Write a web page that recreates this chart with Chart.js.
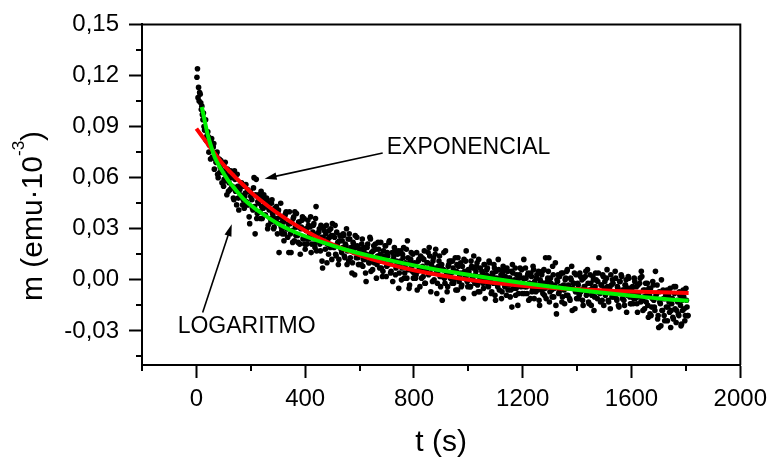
<!DOCTYPE html>
<html><head><meta charset="utf-8">
<script src="https://cdn.jsdelivr.net/npm/chart.js@4.4.0/dist/chart.umd.min.js"></script>
<style>html,body{margin:0;padding:0;background:#fff}#wrap{width:774px;height:461px}</style>
</head><body><div id="wrap"><canvas id="c" width="774" height="461"></canvas></div>
<script>
// ---- axis ticks ----
const xTicks = [0, 400, 800, 1200, 1600, 2000];
const xMinorTicks = [-200, 200, 600, 1000, 1400, 1800];
const yTicks = [-0.03, 0, 0.03, 0.06, 0.09, 0.12, 0.15];
const yMinorTicks = [-0.045, -0.015, 0.015, 0.045, 0.075, 0.105, 0.135];
const xRange = [-200, 2000];
const yRange = [-0.05, 0.15];

// ---- fitted curves ----
const expT = [0, 50, 100, 150, 200, 250, 300, 400, 500, 600, 700, 800, 1000, 1200, 1400, 1600, 1810];
const expM = [.0888, .078, .0675, .0592, .0515, .0450, .0390, .0288, .0208, .0145, .0095, .0056, .0001, -.0034, -.0055, -.0068, -.0077];
const logT = [20, 30, 43, 55, 67, 90, 116, 145, 178, 220, 260, 300, 349, 400, 462, 550, 635, 750, 870, 965, 1100, 1200, 1332, 1450, 1600, 1700, 1810];
const logM = [.1015, .0938, .0844, .0780, .0722, .0652, .0586, .0528, .0468, .0414, .0370, .0330, .0290, .0256, .0221, .0177, .0142, .0101, .0064, .0039, .0005, -.0018, -.0045, -.0068, -.0093, -.0109, -.0123];

// ---- measured points [t (s), m] ----
const scatterEarly = [
[2,.119],[4,.124],[6,.107],[8,.113],[10,.105],[12,.110],[14,.109],[16,.104],[18,.100],[20,.102],[22,.097],[24,.094],[28,.090],[32,.088],[36,.082],[40,.085],[44,.084],[48,.079],[52,.071],[56,.083],[60,.078],[64,.080],[68,.074],[72,.069],[76,.075],[80,.060],[84,.071],[88,.066],[92,.068],[96,.063],[100,.055],
[104,.058],[108,.062],[112,.050],[116,.061],[120,.057],[124,.053],[128,.060],[132,.055],[136,.048],[140,.064],[144,.052],[148,.044],[152,.055],[156,.041],[160,.053],[164,.049],[168,.056],[172,.047],[176,.042],[180,.051],[184,.046],[188,.053],[192,.044],[196,.033],[200,.049],
[204,.047],[208,.041],[212,.060],[216,.027],[220,.059],[224,.039],[228,.045],[232,.050],[236,.036],[240,.043],[244,.048],[248,.050],[252,.038],[256,.044],[260,.047],[264,.032],[268,.041],[272,.036],[276,.045],[280,.039],[284,.030],[288,.042],[292,.034],[296,.036],[300,.040],
[304,.016],[308,.037],[312,.031],[316,.027],[320,.034],[324,.027],[328,.039],[332,.030],[336,.025],[340,.016],[344,.033],[348,.016],[352,.029],[356,.036],[360,.023],[364,.031],[368,.039],[372,.026],[376,.034],[380,.021],[384,.030],[388,.035],[392,.024],[396,.036],[400,.018]
];
const scatterMid = [
[404,.029],[408,.024],[412,.032],[416,.026],[420,.037],[424,.021],[428,.028],[432,.033],[436,.019],[440,.043],[444,.027],[448,.023],[452,.030],[456,.017],[460,.025],[464,.007],[468,.031],[472,.022],[476,.027],[480,.010],[484,.024],[488,.029],[492,.019],[496,.026],[500,.033],
[504,.020],[508,.025],[512,.015],[516,.028],[520,.022],[524,.012],[528,.026],[532,.018],[536,.023],[540,.027],[544,.014],[548,.021],[552,.030],[556,.017],[560,.011],[564,.024],[568,.019],[572,.004],[576,.022],[580,.016],[584,.026],[588,.013],[592,.020],[596,.009],[600,.018],
[604,.015],[608,.021],[612,.008],[616,.017],[620,.012],[624,-.001],[628,.019],[632,.014],[636,.010],[640,.024],[644,.016],[648,.006],[652,.020],[656,.013],[660,.018],[664,.009],[668,.022],[672,.011],[676,.015],[680,.007],[684,.002],[688,.017],[692,.012],[696,.020],[700,.008],
[704,.014],[708,.022],[712,.010],[716,.005],[720,.016],[724,.012],[728,.019],[732,.003],[736,.011],[740,.015],[744,-.005],[748,.009],[752,.017],[756,.007],[760,.013],[764,.001],[768,.010],[772,.018],[776,.023],[780,.006],[784,-.003],[788,.012],[792,.008],[796,.015],[800,.004],
[804,.009],[808,.003],[812,-.006],[816,.011],[820,.007],[824,.014],[828,.001],[832,.008],[836,.012],[840,-.002],[844,.006],[848,.010],[852,.016],[856,.019],[860,.004],[864,.009],[868,-.001],[872,.013],[876,.007],[880,.018],[884,-.008],[888,.005],[892,.011],[896,.002],[900,.008],
[904,-.012],[908,.006],[912,.001],[916,.017],[920,.004],[924,-.004],[928,.009],[932,.003],[936,.011],[940,-.002],[944,.007],[948,.000],[952,.013],[956,.005],[960,-.006],[964,.008],[968,.002],[972,.010],[976,-.003],[980,.004],[984,.012],[988,.001],[992,.017],[996,-.001],[1000,.006],
[1004,.003],[1008,-.004],[1012,.008],[1016,.001],[1020,.014],[1024,-.002],[1028,.005],[1032,.010],[1036,-.007],[1040,.002],[1044,.007],[1048,-.001],[1052,.004],[1056,-.005],[1060,.009],[1064,.000],[1068,.006],[1072,-.003],[1076,.011],[1080,.002],[1084,-.008],[1088,.004],[1092,-.002],[1096,.007],[1100,-.012]
];
const scatterLate = [
[1104,.001],[1108,-.004],[1112,.006],[1116,-.001],[1120,.003],[1124,-.007],[1128,.008],[1132,-.002],[1136,.002],[1140,-.009],[1144,.005],[1148,-.003],[1152,.001],[1156,-.006],[1160,-.016],[1164,.004],[1168,-.001],[1172,.007],[1176,-.005],[1180,.000],[1184,-.008],[1188,.003],[1192,-.003],[1196,.006],[1200,-.002],
[1204,.012],[1208,-.004],[1212,.001],[1216,-.008],[1220,.004],[1224,-.002],[1228,-.011],[1232,.002],[1236,-.005],[1240,.006],[1244,-.001],[1248,-.007],[1252,.003],[1256,-.003],[1260,-.012],[1264,.000],[1268,-.006],[1272,.005],[1276,-.002],[1280,-.009],[1284,.013],[1288,-.004],[1292,.001],[1296,.013],[1300,-.007],
[1304,-.002],[1308,-.010],[1312,.003],[1316,-.005],[1320,.010],[1324,-.020],[1328,-.001],[1332,-.008],[1336,.002],[1340,-.004],[1344,-.013],[1348,.004],[1352,-.006],[1356,.000],[1360,-.009],[1364,.006],[1368,-.003],[1372,-.011],[1376,.001],[1380,.008],[1384,-.005],[1388,-.002],[1392,-.017],[1396,.003],[1400,-.007],
[1404,-.003],[1408,-.009],[1412,.002],[1416,-.006],[1420,-.012],[1424,.001],[1428,-.004],[1432,.005],[1436,-.008],[1440,-.002],[1444,-.014],[1448,.003],[1452,-.015],[1456,-.005],[1460,.000],[1464,-.010],[1468,.004],[1472,-.007],[1476,-.001],[1480,.013],[1484,-.008],[1488,-.003],[1492,-.012],[1496,.002],[1500,-.005],
[1504,-.009],[1508,.001],[1512,-.004],[1516,-.013],[1520,-.006],[1524,.003],[1528,-.010],[1532,-.002],[1536,-.007],[1540,.005],[1544,-.011],[1548,-.004],[1552,-.015],[1556,-.001],[1560,-.008],[1564,.002],[1568,-.006],[1572,-.012],[1576,-.003],[1580,.000],[1584,-.009],[1588,.002],[1592,-.005],[1596,-.014],[1600,-.007],
[1604,-.004],[1608,-.011],[1612,-.001],[1616,-.008],[1620,-.014],[1624,-.003],[1628,-.010],[1632,.001],[1636,.005],[1640,-.012],[1644,-.006],[1648,-.017],[1652,-.002],[1656,-.009],[1660,-.015],[1664,-.005],[1668,-.020],[1672,-.021],[1676,-.011],[1680,-.003],[1684,-.016],[1688,.005],[1692,-.008],[1696,-.023],[1700,-.028],
[1704,-.013],[1708,-.027],[1712,-.018],[1716,-.006],[1720,-.021],[1724,-.011],[1728,-.016],[1732,-.024],[1736,-.009],[1740,-.019],[1744,-.028],[1748,-.014],[1752,-.022],[1756,-.004],[1760,-.017],[1764,-.025],[1768,-.012],[1772,-.020],[1776,-.007],[1780,-.015],[1784,-.026],[1788,-.018],[1792,-.010],[1796,-.024],[1800,-.005],[1804,-.016],[1808,-.021]
];
const scatterExtraA = [
[26,.098],[30,.088],[34,.094],[38,.084],[42,.087],[46,.075],[50,.081],[54,.081],[58,.072],[62,.078],[66,.065],[70,.071],[74,.073],[78,.062],[82,.069],[86,.063],[90,.070],[94,.057],[98,.064],
[102,.059],[106,.069],[110,.060],[114,.065],[118,.052],[122,.061],[126,.064],[130,.054],[134,.061],[138,.047],[142,.059],[146,.053],[150,.062],[154,.048],[158,.055],[162,.050],[166,.057],[170,.044],[174,.055],[178,.049],[182,.056],[186,.044],[190,.052],[194,.037],[198,.052],
[202,.050],[206,.042],[210,.054],[214,.043],[218,.050],[222,.036],[226,.046],[230,.050],[234,.040],[238,.052],[242,.036],[246,.042],[250,.046],[254,.038],[258,.048],[262,.030],[266,.042],[270,.045],[274,.034],[278,.047],[282,.037],[286,.031],[290,.040],[294,.043],[298,.027],
[302,.041],[306,.033],[310,.045],[314,.029],[318,.035],[322,.023],[326,.038],[330,.040],[334,.030],[338,.033],[342,.040],[346,.027],[350,.034],[354,.022],[358,.037],[362,.040],[366,.026],[370,.031],[374,.022],[378,.034],[382,.015],[386,.031],[390,.037],[394,.025],[398,.021],
[402,.030],[406,.021],[410,.035],[414,.024],[418,.031],[422,.016],[426,.026],[430,.032],[434,.021],[438,.036],[442,.017],[446,.024],[450,.028],[454,.021],[458,.032],[462,.011],[466,.025],[470,.029],[474,.018],[478,.032],[482,.021],[486,.015],[490,.025],[494,.030],[498,.012],
[502,.026],[506,.019],[510,.032],[514,.014],[518,.021],[522,.009],[526,.023],[530,.026],[534,.016],[538,.019],[542,.026],[546,.013],[550,.020],[554,.009],[558,.024],[562,.027],[566,.013],[570,.018],[574,.010],[578,.021],[582,.003],[586,.019],[590,.025],[594,.013],[598,.009],
[602,.018],[606,.009],[610,.024],[614,.012],[618,.019],[622,.004],[626,.015],[630,.021],[634,.010],[638,.025],[642,.005],[646,.013],[650,.017],[654,.010],[658,.021],[662,.001],[666,.014],[670,.018],[674,.007],[678,.022],[682,.011],[686,.005],[690,.014],[694,.020],[698,.002],
[702,.016],[706,.009],[710,.023],[714,.004],[718,.011],[722,-.001],[726,.014],[730,.017],[734,.007],[738,.010],[742,.017],[746,.004],[750,.011],[754,.000],[758,.015],[762,.019],[766,.004],[770,.009],[774,.001],[778,.013],[782,-.005],[786,.011],[790,.016],[794,.005],[798,.001],
[802,.010],[806,.001],[810,.016],[814,.005],[818,.012],[822,-.004],[826,.007],[830,.013],[834,.002],[838,.017],[842,-.002],[846,.006],[850,.010],[854,.003],[858,.014],[862,-.007],[866,.007],[870,.011],[874,.000],[878,.015],[882,.004],[886,-.002],[890,.008],[894,.014],[898,-.004]
];
const scatterExtraB = [
[902,.009],[906,.002],[910,.016],[914,-.002],[918,.005],[922,-.007],[926,.008],[930,.011],[934,.001],[938,.004],[942,.011],[946,-.002],[950,.005],[954,-.006],[958,.009],[962,.013],[966,-.001],[970,.004],[974,-.004],[978,.008],[982,-.011],[986,.005],[990,.011],[994,.000],[998,-.004],
[1002,.005],[1006,-.004],[1010,.011],[1014,.000],[1018,.007],[1022,-.008],[1026,.003],[1030,.008],[1034,-.003],[1038,.012],[1042,-.007],[1046,.001],[1050,.005],[1054,-.002],[1058,.009],[1062,-.011],[1066,.003],[1070,.007],[1074,-.004],[1078,.010],[1082,-.001],[1086,-.007],[1090,.003],[1094,.009],[1098,-.009],
[1102,.005],[1106,-.002],[1110,.012],[1114,-.006],[1118,.001],[1122,-.011],[1126,.004],[1130,.006],[1134,-.004],[1138,-.001],[1142,.007],[1146,-.006],[1150,.001],[1154,-.010],[1158,.005],[1162,.009],[1166,-.005],[1170,.000],[1174,-.009],[1178,.003],[1182,-.015],[1186,.001],[1190,.007],[1194,-.004],[1198,-.008],
[1202,.001],[1206,-.008],[1210,.007],[1214,-.004],[1218,.003],[1222,-.012],[1226,-.002],[1230,.004],[1234,-.007],[1238,.008],[1242,-.011],[1246,-.003],[1250,.001],[1254,-.006],[1258,.005],[1262,-.015],[1266,-.001],[1270,.003],[1274,-.008],[1278,.006],[1282,-.005],[1286,-.011],[1290,-.001],[1294,.005],[1298,-.013],
[1302,.001],[1306,-.006],[1310,.008],[1314,-.010],[1318,-.003],[1322,-.015],[1326,.000],[1330,.003],[1334,-.007],[1338,-.004],[1342,.004],[1346,-.010],[1350,-.003],[1354,-.014],[1358,.001],[1362,.005],[1366,-.009],[1370,-.004],[1374,-.012],[1378,.000],[1382,-.018],[1386,-.002],[1390,.004],[1394,-.007],[1398,-.011],
[1402,-.002],[1406,-.011],[1410,.004],[1414,-.007],[1418,.000],[1422,-.015],[1426,-.004],[1430,.002],[1434,-.009],[1438,.006],[1442,-.013],[1446,-.006],[1450,-.002],[1454,-.009],[1458,.002],[1462,-.018],[1466,-.004],[1470,.000],[1474,-.011],[1478,.004],[1482,-.007],[1486,-.013],[1490,-.003],[1494,.003],[1498,-.015],
[1502,-.001],[1506,-.008],[1510,.006],[1514,-.012],[1518,-.005],[1522,-.017],[1526,-.003],[1530,.000],[1534,-.010],[1538,-.007],[1542,.001],[1546,-.012],[1550,-.005],[1554,-.016],[1558,-.001],[1562,.003],[1566,-.011],[1570,-.006],[1574,-.015],[1578,-.003],[1582,-.019],[1586,-.005],[1590,.001],[1594,-.010],[1598,-.014],
[1602,-.005],[1606,-.014],[1610,.001],[1614,-.011],[1618,-.004],[1622,-.019],[1626,-.008],[1630,-.002],[1634,-.013],[1638,.002],[1642,-.018],[1646,-.010],[1650,-.006],[1654,-.013],[1658,-.002],[1662,-.022],[1666,-.009],[1670,-.005],[1674,-.016],[1678,-.001],[1682,-.012],[1686,-.018],[1690,-.009],[1694,-.003],[1698,-.021],
[1702,-.007],[1706,-.014],[1710,.000],[1714,-.018],[1718,-.011],[1722,-.024],[1726,-.009],[1730,-.006],[1734,-.016],[1738,-.013],[1742,-.005],[1746,-.018],[1750,-.011],[1754,-.023],[1758,-.008],[1762,-.004],[1766,-.018],[1770,-.013],[1774,-.021],[1778,-.009],[1782,-.027],[1786,-.012],[1790,-.006],[1794,-.017],[1798,-.021],[1802,-.012],[1806,-.021]
];

// ---- texts ----
const xTitle = 't (s)';
const yTitleParts = ['m (emu\u00B710', '-3', ')'];
const annotations = [
  { text: 'EXPONENCIAL', at: [700, 0.0775], from: [685, 0.0745], to: [251, 0.0594] },
  { text: 'LOGARITMO', at: [-69, -0.0274], from: [23, -0.0192], to: [130, 0.0326] }
];

// ---- build datasets ----
const toXY = (ts, ms) => ts.map((t, i) => ({ x: t, y: ms[i] }));
const pairsToXY = arr => arr.map(p => ({ x: p[0], y: p[1] }));
const FONT = '"Liberation Sans", Arial, Helvetica, sans-serif';

const extrasPlugin = {
  id: 'extras',
  afterDraw(chart) {
    const { ctx, chartArea: a, scales: { x, y } } = chart;
    ctx.save();
    ctx.strokeStyle = '#000';
    ctx.fillStyle = '#000';
    ctx.lineWidth = 2;
    ctx.beginPath();
    ctx.moveTo(a.left, a.top); ctx.lineTo(a.right, a.top); ctx.lineTo(a.right, a.bottom);
    ctx.stroke();
    ctx.beginPath();
    xMinorTicks.forEach(v => { const px = Math.round(x.getPixelForValue(v)); ctx.moveTo(px, a.bottom); ctx.lineTo(px, a.bottom + 6); });
    yMinorTicks.forEach(v => { const py = Math.round(y.getPixelForValue(v)); ctx.moveTo(a.left, py); ctx.lineTo(a.left - 6, py); });
    ctx.stroke();

    ctx.font = '30px ' + FONT;
    ctx.textAlign = 'center';
    ctx.textBaseline = 'alphabetic';
    ctx.fillText(xTitle, (a.left + a.right) / 2, 451);

    ctx.save();
    ctx.translate(42, 216);
    ctx.rotate(-Math.PI / 2);
    const f1 = '30px ' + FONT, f2 = '17px ' + FONT;
    ctx.font = f1; const w1 = ctx.measureText(yTitleParts[0]).width; const w3 = ctx.measureText(yTitleParts[2]).width;
    ctx.font = f2; const w2 = ctx.measureText(yTitleParts[1]).width;
    let sx = -(w1 + w2 + w3) / 2;
    ctx.textAlign = 'left';
    ctx.font = f1; ctx.fillText(yTitleParts[0], sx, 0); sx += w1;
    ctx.font = f2; ctx.fillText(yTitleParts[1], sx, -18); sx += w2;
    ctx.font = f1; ctx.fillText(yTitleParts[2], sx, 0);
    ctx.restore();

    ctx.font = '23px ' + FONT;
    ctx.textAlign = 'left';
    ctx.textBaseline = 'middle';
    annotations.forEach(an => {
      ctx.fillText(an.text, x.getPixelForValue(an.at[0]), y.getPixelForValue(an.at[1]));
      const x1 = x.getPixelForValue(an.from[0]), y1 = y.getPixelForValue(an.from[1]);
      const x2 = x.getPixelForValue(an.to[0]), y2 = y.getPixelForValue(an.to[1]);
      const ang = Math.atan2(y2 - y1, x2 - x1), c = Math.cos(ang), s = Math.sin(ang);
      const L = 12, W = 3.6;
      ctx.lineWidth = 1.6;
      ctx.beginPath(); ctx.moveTo(x1, y1); ctx.lineTo(x2 - L * 0.7 * c, y2 - L * 0.7 * s); ctx.stroke();
      ctx.beginPath();
      ctx.moveTo(x2, y2);
      ctx.lineTo(x2 - L * c + W * s, y2 - L * s - W * c);
      ctx.lineTo(x2 - L * c - W * s, y2 - L * s + W * c);
      ctx.closePath(); ctx.fill();
    });
    ctx.restore();
  }
};

new Chart(document.getElementById('c'), {
  type: 'scatter',
  data: {
    datasets: [
      { type: 'line', label: 'Logaritmo', data: toXY(logT, logM), borderColor: '#00f000', borderWidth: 4, pointRadius: 0, fill: false, cubicInterpolationMode: 'monotone', order: 0 },
      { type: 'line', label: 'Exponencial', data: toXY(expT, expM), borderColor: '#ff0000', borderWidth: 4, pointRadius: 0, fill: false, cubicInterpolationMode: 'monotone', order: 1 },
      { label: 'Datos', data: pairsToXY(scatterEarly.concat(scatterExtraA, scatterMid, scatterExtraB, scatterLate)), pointRadius: 2.8, pointBackgroundColor: '#000', pointBorderWidth: 0, showLine: false, order: 2 }
    ]
  },
  options: {
    responsive: false,
    animation: false,
    devicePixelRatio: 1,
    layout: { padding: { top: 22, right: 32, left: 0, bottom: 0 } },
    plugins: { legend: { display: false }, tooltip: { enabled: false } },
    scales: {
      x: {
        type: 'linear', position: 'bottom', min: xRange[0], max: xRange[1],
        afterBuildTicks: s => { s.ticks = xTicks.map(v => ({ value: v })); },
        afterFit: s => { s.height = 96; },
        grid: { drawOnChartArea: false, drawTicks: true, tickLength: 13, tickWidth: 2, tickColor: '#000' },
        border: { display: true, color: '#000', width: 2 },
        ticks: { color: '#000', font: { family: FONT, size: 24 }, padding: 7, maxRotation: 0, autoSkip: false, callback: v => String(v) }
      },
      y: {
        type: 'linear', position: 'left', min: yRange[0], max: yRange[1],
        afterBuildTicks: s => { s.ticks = yTicks.map(v => ({ value: v })); },
        afterFit: s => { s.width = 142; },
        grid: { drawOnChartArea: false, drawTicks: true, tickLength: 13, tickWidth: 2, tickColor: '#000' },
        border: { display: true, color: '#000', width: 2 },
        ticks: { color: '#000', font: { family: FONT, size: 24 }, padding: 10, autoSkip: false, callback: v => v.toFixed(2).replace('.', ',') }
      }
    }
  },
  plugins: [extrasPlugin]
});
</script></body></html>
